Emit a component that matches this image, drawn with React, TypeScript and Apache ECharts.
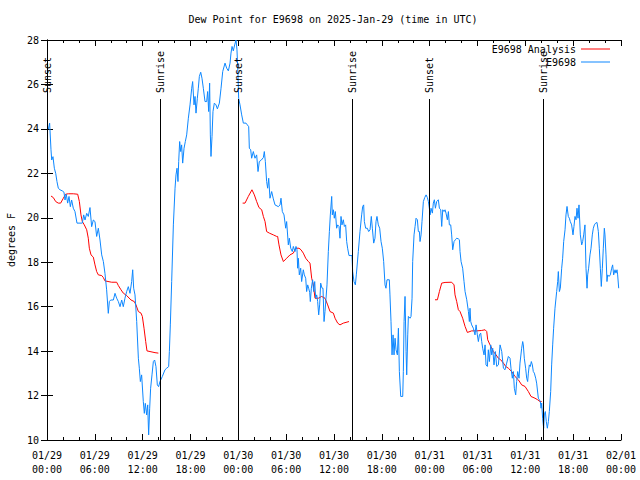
import { useEffect, useRef } from "react";
import * as echarts from "echarts";

const TITLE = "Dew Point for E9698 on 2025-Jan-29 (time in UTC)";
const FONT = '"DejaVu Sans Mono", "Liberation Mono", monospace';
const RED = "#ff0000";
const BLUE = "#0d87ff";

// hours since 2025-01-29 00:00 UTC
const tickDates = ["01/29", "01/30", "01/31", "02/01"];

const obsHours = [
  0.17, 0.33, 0.5, 0.59, 0.75, 0.92, 1.09, 1.25, 1.42, 1.63, 1.92, 2.13, 2.26, 2.42, 2.59, 2.76, 2.93, 3.09, 3.3, 3.51,
  3.76, 4.43, 4.6, 4.77, 4.98, 5.18, 5.39, 5.6, 5.81, 6.02, 6.23, 6.44, 6.65, 6.86, 7.07, 7.27, 7.48, 7.69, 7.82, 7.99,
  8.32, 8.53, 8.74, 8.95, 9.16, 9.37, 9.57, 9.78, 9.99, 10.2, 10.41, 10.62, 10.75, 10.87, 11.04, 11.25, 11.46, 11.58, 11.71, 11.87,
  12.08, 12.21, 12.33, 12.5, 12.63, 12.75, 12.88, 13.0, 13.17, 13.34, 13.5, 13.67, 13.84, 14.0, 14.17, 14.47, 14.8, 15.01, 15.26, 15.35,
  15.47, 15.64, 15.85, 16.06, 16.18, 16.31, 16.43, 16.52, 16.64, 16.77, 16.89, 17.02, 17.19, 17.35, 17.52, 17.73, 17.94, 18.15, 18.27, 18.44,
  18.57, 18.69, 18.86, 18.98, 19.11, 19.28, 19.44, 19.61, 19.82, 20.03, 20.15, 20.28, 20.4, 20.49, 20.57, 20.7, 20.82, 20.99, 21.2, 21.37,
  21.62, 21.83, 22.04, 22.33, 22.54, 22.75, 22.96, 23.08, 23.21, 23.37, 23.54, 23.71, 23.83, 23.96, 24.04, 24.21, 24.42, 24.63, 24.96, 25.13,
  25.3, 25.38, 25.55, 25.67, 25.88, 26.09, 26.3, 26.47, 26.63, 26.89, 27.14, 27.26, 27.39, 27.55, 27.68, 27.81, 27.97, 28.18, 28.39, 28.6,
  29.02, 29.23, 29.35, 29.52, 29.73, 29.94, 30.06, 30.27, 30.4, 30.57, 30.77, 30.9, 31.11, 31.23, 31.36, 31.44, 31.53, 31.65, 31.82, 31.94,
  32.15, 32.28, 32.45, 32.57, 32.7, 32.82, 32.95, 33.03, 33.16, 33.32, 33.45, 33.58, 33.7, 33.83, 33.95, 34.08, 34.2, 34.33, 34.5, 34.62,
  34.75, 34.87, 35.0, 35.12, 35.29, 35.42, 35.54, 35.71, 35.79, 35.92, 36.04, 36.17, 36.33, 36.46, 36.63, 36.75, 36.88, 37.0, 37.17, 37.3,
  37.46, 37.59, 37.71, 37.88, 38.26, 38.34, 38.51, 38.68, 38.8, 39.05, 39.26, 39.47, 39.6, 39.72, 39.81, 39.97, 40.18, 40.35, 40.52, 40.68,
  40.81, 40.98, 41.14, 41.27, 41.39, 41.56, 41.73, 41.9, 42.06, 42.23, 42.4, 42.52, 42.65, 42.94, 43.02, 43.15, 43.28, 43.41, 43.53, 43.66,
  43.78, 43.95, 44.08, 44.2, 44.37, 44.62, 44.7, 44.79, 44.91, 45.04, 45.12, 45.25, 45.33, 45.54, 45.66, 45.79, 45.87, 46.04, 46.17, 46.29,
  46.46, 46.58, 46.71, 46.79, 46.92, 47.04, 47.21, 47.38, 47.55, 47.71, 47.84, 47.96, 48.05, 48.17, 48.34, 48.46, 48.59, 48.72, 48.88, 49.09,
  49.22, 49.39, 49.51, 49.64, 49.8, 49.93, 50.05, 50.22, 50.35, 50.47, 50.64, 50.76, 50.89, 51.06, 51.22, 51.39, 51.6, 51.73, 51.81, 51.94,
  52.14, 52.31, 52.44, 52.65, 52.86, 52.98, 53.06, 53.15, 53.27, 53.48, 53.69, 53.82, 53.98, 54.11, 54.24, 54.4, 54.53, 54.65, 54.82, 54.95,
  55.07, 55.24, 55.36, 55.49, 55.66, 55.78, 55.91, 56.07, 56.24, 56.41, 56.62, 56.83, 57.04, 57.25, 57.45, 57.66, 57.87, 58.08, 58.2, 58.37,
  58.5, 58.62, 58.79, 58.91, 59.04, 59.21, 59.33, 59.54, 59.67, 59.75, 59.87, 60.04, 60.17, 60.29, 60.38, 60.5, 60.63, 60.75, 60.88, 61.0,
  61.13, 61.3, 61.42, 61.63, 61.76, 61.88, 61.97, 62.05, 62.17, 62.3, 62.38, 62.51, 62.63, 62.76, 62.89, 63.01, 63.18, 63.3, 63.43, 63.55,
  63.72, 63.93, 64.06, 64.14, 64.27, 64.39, 64.56, 64.68, 64.81, 64.98, 65.1, 65.23, 65.39, 65.52, 65.64, 65.81, 65.98, 66.1, 66.23, 66.36,
  66.48, 66.61, 66.73, 66.9, 67.07, 67.19, 67.32, 67.48, 67.61, 67.74, 67.82, 67.94, 68.11, 68.24, 68.4, 68.53, 68.66, 68.82, 68.99, 69.16,
  69.28, 69.41, 69.53, 69.66, 69.78, 69.91, 69.99, 70.12, 70.24, 70.33, 70.5, 70.66, 70.83, 70.95, 71.08, 71.25, 71.37, 71.5, 71.58, 71.71,
];

const obsDewF = [
  23.99, 24.26, 23.06, 22.6, 22.75, 22.23, 22.0, 21.63, 21.33, 21.26, 21.21, 21.15, 20.8, 21.06, 20.66, 20.96, 20.5, 20.8, 20.43, 20.28,
  19.76, 19.76, 20.13, 19.9, 20.2, 20.06, 20.46, 19.6, 19.9, 19.83, 19.16, 19.53, 19.0, 18.33, 18.03, 17.5, 16.76, 15.7, 16.23, 16.3,
  16.3, 16.6, 16.38, 16.23, 16.0, 16.3, 16.0, 16.38, 16.68, 16.9, 16.6, 17.13, 17.66, 16.83, 16.53, 15.33, 13.68, 13.23, 12.63, 12.93,
  11.73, 11.2, 11.65, 11.13, 11.58, 10.23, 11.43, 12.33, 12.93, 13.53, 13.6, 13.3, 12.48, 12.4, 12.63, 12.86, 13.16, 13.23, 13.3, 13.98,
  15.18, 17.13, 19.68, 21.33, 21.93, 22.23, 21.63, 22.53, 23.43, 22.98, 23.28, 22.46, 23.13, 23.43, 23.73, 24.48, 25.08, 25.83, 26.13, 25.08,
  25.46, 24.71, 25.38, 25.83, 26.36, 26.55, 26.28, 25.83, 25.23, 25.23, 25.68, 24.78, 26.06, 23.73, 22.76, 23.66, 24.78, 25.16, 25.08, 24.9,
  25.16, 25.83, 26.58, 26.96, 26.73, 26.61, 26.96, 27.41, 27.71, 27.51, 27.78, 28.0, 27.56, 26.43, 25.38, 25.08, 24.63, 24.26, 24.26, 24.18,
  24.1, 23.13, 23.06, 22.68, 22.98, 22.68, 22.83, 22.08, 22.53, 22.6, 22.71, 22.98, 22.53, 21.63, 21.33, 21.78, 20.88, 21.18, 20.85, 20.58,
  20.5, 20.58, 20.88, 20.28, 20.13, 19.53, 19.83, 18.78, 19.08, 18.63, 18.48, 18.71, 18.48, 18.71, 18.56, 17.73, 18.18, 17.43, 17.73, 17.13,
  17.66, 17.43, 17.28, 16.68, 16.98, 16.83, 16.65, 16.23, 16.83, 17.21, 16.68, 17.13, 16.38, 16.53, 16.23, 15.63, 16.08, 17.06, 16.83, 16.83,
  15.33, 15.78, 16.38, 16.98, 18.48, 19.38, 20.13, 20.96, 20.13, 20.36, 19.98, 20.28, 19.53, 19.68, 19.61, 19.08, 20.06, 19.68, 19.91, 19.61,
  19.68, 18.93, 18.63, 18.3, 18.3, 17.58, 17.13, 16.98, 17.43, 18.48, 19.38, 20.13, 20.51, 20.58, 19.83, 19.53, 19.53, 19.38, 19.46, 20.06,
  19.53, 18.86, 19.08, 19.83, 20.06, 19.68, 19.53, 18.93, 18.63, 18.03, 16.98, 16.83, 17.21, 17.21, 16.53, 15.33, 13.83, 14.73, 13.83, 14.58,
  14.06, 13.83, 15.03, 13.08, 11.96, 11.96, 13.08, 15.33, 16.46, 13.98, 12.93, 14.73, 15.56, 15.48, 15.56, 16.38, 18.03, 19.23, 19.61, 19.98,
  19.91, 19.38, 19.38, 18.93, 19.23, 19.83, 20.73, 20.91, 21.03, 20.91, 20.73, 20.43, 20.13, 20.43, 20.21, 20.66, 20.81, 20.43, 20.73, 20.81,
  20.43, 20.36, 19.61, 20.36, 20.28, 20.36, 20.21, 19.91, 20.28, 19.68, 19.68, 19.23, 18.56, 18.93, 19.01, 19.08, 19.05, 19.01, 18.48, 18.03,
  17.73, 17.13, 16.68, 16.31, 15.78, 15.33, 15.93, 15.33, 15.18, 15.03, 14.73, 15.18, 14.73, 14.43, 14.73, 14.81, 14.43, 14.13, 13.83, 14.28,
  13.38, 13.31, 14.06, 13.53, 14.28, 13.83, 14.13, 13.38, 13.98, 13.31, 13.38, 14.28, 13.98, 13.23, 13.16, 13.46, 13.76, 13.68, 13.23, 12.78,
  13.08, 12.33, 12.03, 12.63, 13.08, 12.78, 13.46, 14.13, 14.43, 14.28, 13.68, 13.23, 12.78, 12.63, 13.01, 13.38, 13.31, 13.53, 13.38, 13.08,
  13.01, 12.78, 12.56, 11.88, 11.81, 11.73, 11.43, 11.66, 10.98, 10.53, 11.13, 11.28, 10.83, 10.53, 10.83, 11.28, 12.18, 13.38, 14.28, 15.03,
  15.93, 16.68, 17.13, 17.58, 16.68, 16.83, 17.73, 18.18, 18.93, 19.46, 20.13, 20.51, 20.06, 19.98, 19.83, 19.68, 19.23, 19.61, 20.06, 19.91,
  20.43, 19.98, 20.58, 19.23, 18.78, 18.93, 19.23, 19.68, 17.73, 16.83, 17.43, 17.73, 18.33, 18.63, 19.23, 19.53, 19.68, 19.76, 19.79, 19.38,
  18.63, 17.73, 16.91, 17.73, 18.63, 19.53, 19.23, 18.33, 17.13, 17.43, 17.36, 17.43, 17.73, 17.88, 17.43, 17.66, 17.51, 17.66, 17.43, 16.83,
];

// analysis: three runs separated by gaps (null)
const anHours = [
  0.5, 0.79, 1.09, 1.42, 1.71, 2.05, 2.34, 2.68, 3.3, 3.85, 4.06, 4.26, 4.43, 4.68, 4.98, 5.18, 5.31, 5.52, 5.81, 6.02,
  6.23, 6.44, 6.86, 7.07, 7.27, 8.11, 8.74, 8.95, 9.28, 9.57, 9.99, 10.54, 10.95, 11.16, 11.46, 11.79, 11.96, 12.17, 12.38, 12.54,
  12.92, 13.55, 13.97,
  19.0,
  24.54, 24.84, 25.25, 25.71, 26.01, 26.3, 26.59, 26.93, 27.14, 27.35, 27.55, 27.89, 28.39, 28.81, 28.93, 29.1, 29.35, 29.65, 30.06, 30.48,
  30.9, 31.19, 31.61, 31.86, 32.15, 32.45, 32.78, 32.99, 33.2, 33.41, 33.62, 34.04, 34.45, 34.87, 35.21, 35.5, 35.92, 36.13, 36.46, 36.75,
  37.17, 37.88,
  43.0,
  48.67, 48.97, 49.22, 49.51, 49.93, 50.76, 51.06, 51.18, 51.39, 51.6, 51.81, 52.14, 52.44, 52.73, 53.27, 53.9, 54.53, 54.95, 55.16, 55.28,
  55.57, 55.99, 56.33, 56.62, 56.91, 57.25, 57.54, 57.87, 58.29, 58.7, 59.12, 59.54, 59.96, 60.38, 60.71, 61.21, 61.55, 61.84, 62.05,
];

const anDewF: (number | null)[] = [
  20.98, 20.91, 20.73, 20.66, 20.66, 20.88, 21.06, 21.08, 21.08, 21.06, 20.73, 20.13, 19.83, 19.68, 19.46, 19.08, 18.63, 18.33, 18.23, 17.88,
  17.58, 17.43, 17.4, 17.31, 17.16, 17.1, 17.1, 16.95, 16.76, 16.61, 16.5, 16.3, 16.23, 16.08, 15.78, 15.71, 15.56, 15.03, 14.43, 14.01,
  13.98, 13.93, 13.91,
  null,
  20.66, 20.66, 20.96, 21.26, 21.03, 20.73, 20.46, 20.36, 20.06, 19.83, 19.38, 19.31, 19.23, 19.16, 19.16, 18.78, 18.33, 18.03, 18.18, 18.33,
  18.41, 18.63, 18.63, 18.56, 18.41, 18.18, 18.03, 17.96, 17.28, 16.98, 16.38, 16.38, 16.46, 16.38, 16.08, 15.78, 15.71, 15.48, 15.26, 15.18,
  15.26, 15.33,
  null,
  16.31, 16.31, 16.68, 17.06, 17.09, 17.1, 16.98, 16.53, 16.23, 15.86, 15.78, 15.48, 15.11, 14.84, 14.91, 14.91, 14.93, 14.96, 14.88, 14.51,
  14.28, 13.98, 13.83, 13.68, 13.61, 13.46, 13.31, 13.23, 13.08, 12.86, 12.71, 12.48, 12.41, 12.18, 11.96, 11.88, 11.81, 11.73, 11.73,
];

const sunHours = [0, 14.17, 23.96, 38.3, 47.96, 62.26];
const sunLabels = ["Sunset", "Sunrise", "Sunset", "Sunrise", "Sunset", "Sunrise"];

const X_MIN = 0;
const X_MAX = 72;
const X_STEP = 6;
const Y_MIN = 10;
const Y_MAX = 28;
const Y_STEP = 2;

function fmtTick(h: number): string {
  const day = Math.floor(h / 24);
  const hh = String(Math.round(h % 24)).padStart(2, "0");
  return tickDates[day] + "\n" + hh + ":00";
}

export default function App() {
  const ref = useRef<HTMLDivElement>(null);
  useEffect(() => {
    if (!ref.current) return;
    const chart = echarts.init(ref.current, undefined, { renderer: "svg" });
    const txt = { fontFamily: FONT, fontSize: 10, color: "#000" };
    const axisLine = { show: true, lineStyle: { color: "#000", width: 1 } };
    const tick = { show: true, inside: true, length: 6, lineStyle: { color: "#000" } };
    const minor = { show: true, splitNumber: 3, length: 3, lineStyle: { color: "#000" } };

    const obsData = obsHours.map((h, i) => [h, obsDewF[i]]);
    const anData = anHours.map((h, i) => [h, anDewF[i] == null ? "-" : anDewF[i]]);

    const legendBase = {
      right: 30,
      padding: 0,
      icon: "rect",
      itemWidth: 29,
      itemHeight: 1,
      align: "right",
      selectedMode: false,
      textStyle: txt,
    };

    chart.setOption({
      animation: false,
      backgroundColor: "#ffffff",
      title: {
        text: TITLE,
        left: 333,
        top: 14,
        padding: 0,
        textAlign: "center",
        textStyle: { ...txt, fontWeight: "normal" },
      },
      legend: [
        { ...legendBase, top: 44, data: ["E9698 Analysis"] },
        { ...legendBase, top: 57, data: ["E9698"] },
      ],
      grid: { left: 47, right: 19, top: 40, bottom: 40, containLabel: false, outerBoundsMode: "none" },
      xAxis: [
        {
          type: "value",
          min: X_MIN,
          max: X_MAX,
          interval: X_STEP,
          position: "bottom",
          axisLine,
          axisTick: tick,
          minorTick: minor,
          splitLine: { show: false },
          axisLabel: { ...txt, formatter: fmtTick, margin: 8, lineHeight: 14 },
        },
        {
          type: "value",
          min: X_MIN,
          max: X_MAX,
          interval: X_STEP,
          position: "top",
          axisLine,
          axisTick: tick,
          minorTick: minor,
          splitLine: { show: false },
          axisLabel: { show: false },
        },
      ],
      yAxis: [
        {
          type: "value",
          min: Y_MIN,
          max: Y_MAX,
          interval: Y_STEP,
          position: "left",
          name: "degrees F",
          nameLocation: "middle",
          nameRotate: 90,
          nameGap: 31,
          nameTextStyle: txt,
          axisLine,
          axisTick: tick,
          splitLine: { show: false },
          axisLabel: { ...txt, margin: 8 },
        },
        {
          type: "value",
          min: Y_MIN,
          max: Y_MAX,
          interval: Y_STEP,
          position: "right",
          axisLine,
          axisTick: tick,
          splitLine: { show: false },
          axisLabel: { show: false },
        },
      ],
      series: [
        {
          name: "E9698 Analysis",
          type: "line",
          data: anData,
          symbol: "none",
          connectNulls: false,
          lineStyle: { color: RED, width: 1 },
          itemStyle: { color: RED },
          z: 2,
        },
        {
          name: "E9698",
          type: "line",
          data: obsData,
          symbol: "none",
          lineStyle: { color: BLUE, width: 1 },
          itemStyle: { color: BLUE },
          z: 3,
        },
        {
          name: "sun",
          type: "custom",
          silent: true,
          clip: false,
          data: sunHours.map((h) => [h, Y_MIN]),
          encode: { x: 0, y: 1 },
          z: 4,
          renderItem: (params: any, api: any) => {
            const x = Math.round(api.coord([api.value(0), Y_MIN])[0]) + 0.5;
            const cs = params.coordSys;
            return {
              type: "group",
              children: [
                {
                  type: "line",
                  shape: { x1: x, y1: cs.y + 59, x2: x, y2: cs.y + cs.height },
                  style: { stroke: "#000", lineWidth: 1 },
                },
                {
                  type: "text",
                  x: x,
                  y: cs.y + 53,
                  rotation: Math.PI / 2,
                  style: {
                    text: sunLabels[params.dataIndex],
                    align: "left",
                    verticalAlign: "middle",
                    font: '10px "DejaVu Sans Mono", monospace',
                    fill: "#000",
                  },
                },
              ],
            };
          },
        },
      ],
    });
    return () => chart.dispose();
  }, []);
  return (
    <div
      ref={ref}
      style={{ position: "absolute", left: 0, top: 0, width: 640, height: 480, background: "#fff" }}
    />
  );
}
